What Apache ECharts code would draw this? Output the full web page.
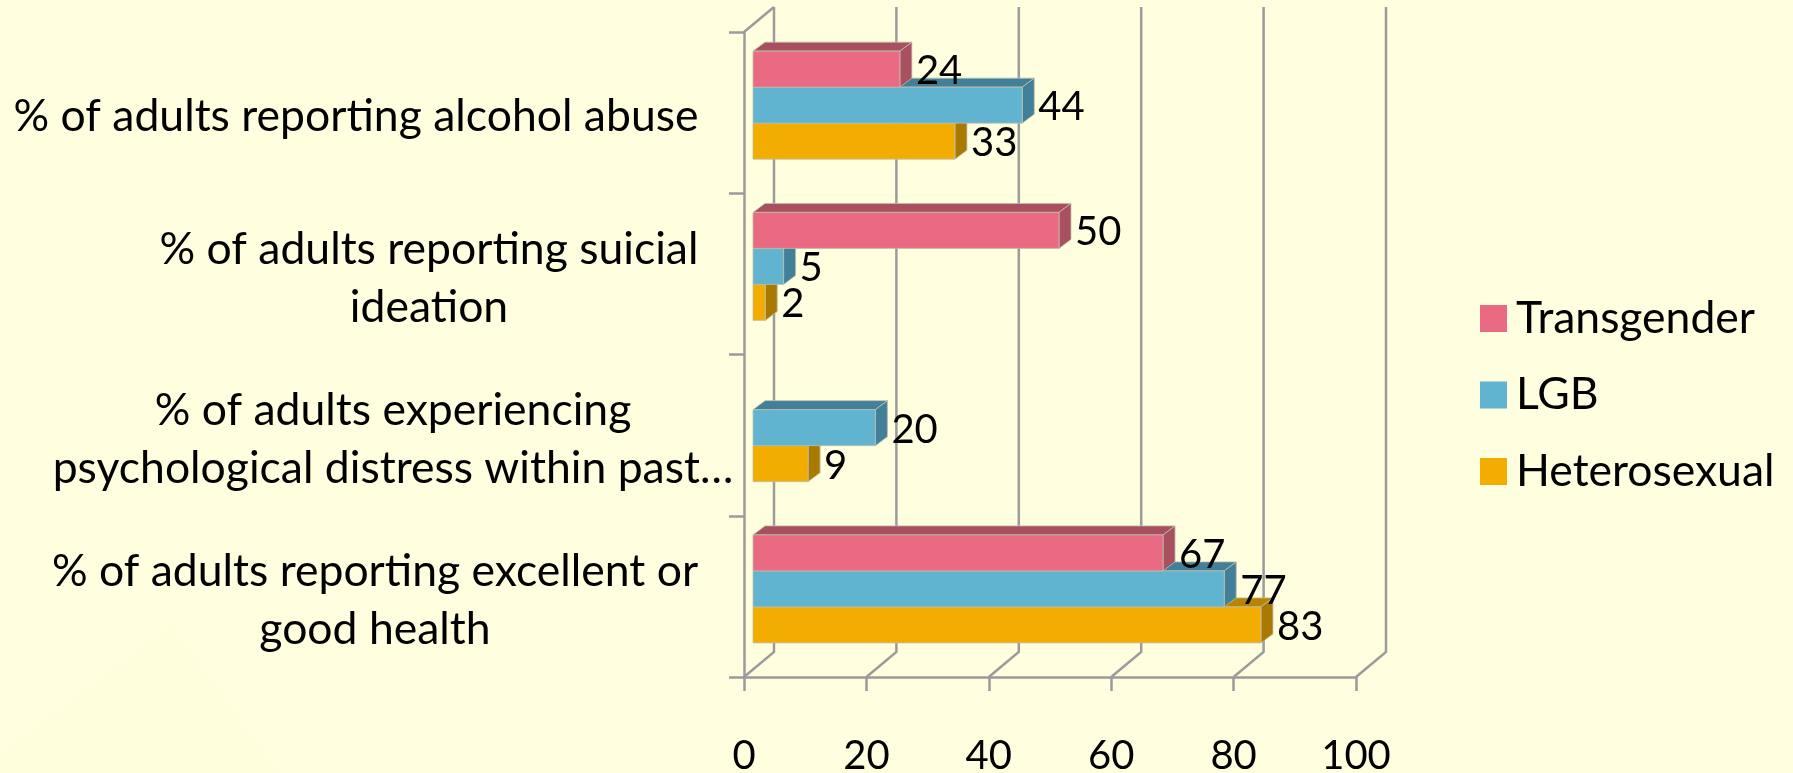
<!DOCTYPE html>
<html>
<head>
<meta charset="utf-8">
<title>Chart</title>
<style>
  html, body { margin: 0; padding: 0; background: #ffffe0; }
  #chart { width: 1793px; height: 773px; }
</style>
<script src="https://cdn.jsdelivr.net/npm/echarts@6/dist/echarts.min.js"></script>
</head>
<body>
<div id="chart"></div>
<script>
// bottom to top, same order as the value axis reads
const categories = [
  '% of adults reporting excellent or\ngood health',
  '% of adults experiencing\npsychological distress within past…',
  '% of adults reporting suicial\nideation',
  '% of adults reporting alcohol abuse'
]
const transgender = [67, null, 50, 24]
const lgb = [77, 20, 5, 44]
const heterosexual = [83, 9, 2, 33]
const xTicks = [0, 20, 40, 60, 80, 100]
const seriesNames = ['Transgender', 'LGB', 'Heterosexual']

const fontName = 'Lato'
const numberSize = 40
const textSize = 44.5
const gridColor = '#9b9b9b'
// box around each axis label, sets where its two lines are centred
const labelBoxes = [710, 674, 602, 748]

const wallDx = 30
const wallDy = 25
const barInsetX = 9
const barInsetY = 7.5
const barDepthX = 12
const barDepthY = 9
const barHeight = 36

const toRows = (values) => values.map((v, i) => [v, i])

function renderWall(params, api) {
  const x = api.coord([api.value(0), 0])[0]
  const top = params.coordSys.y
  const bottom = top + params.coordSys.height
  const lineStyle = { stroke: gridColor, lineWidth: 2.5, fill: null }
  const children = [{
    type: 'polyline',
    shape: { points: [[x, bottom], [x + wallDx, bottom - wallDy], [x + wallDx, top - wallDy]] },
    style: lineStyle
  }]
  if (api.value(0) === 0) {
    children.push({
      type: 'polyline',
      shape: { points: [[x, top], [x + wallDx, top - wallDy]] },
      style: lineStyle
    })
  }
  return { type: 'group', children }
}

function bar3d(slot, front, side, top) {
  return function (params, api) {
    const value = api.value(0)
    if (isNaN(value)) return
    const start = api.coord([0, api.value(1)])
    const end = api.coord([value, api.value(1)])
    const x0 = start[0] + barInsetX
    const x1 = end[0] + barInsetX
    const y0 = start[1] - barInsetY + (slot - 1.5) * barHeight
    const y1 = y0 + barHeight
    const edge = { stroke: 'rgba(190,190,170,0.8)', lineWidth: 1 }
    return {
      type: 'group',
      children: [
        {
          type: 'polygon',
          shape: { points: [[x0, y0], [x1, y0], [x1 + barDepthX, y0 - barDepthY], [x0 + barDepthX, y0 - barDepthY]] },
          style: { fill: top, ...edge }
        },
        {
          type: 'polygon',
          shape: { points: [[x1, y0], [x1 + barDepthX, y0 - barDepthY], [x1 + barDepthX, y1 - barDepthY], [x1, y1]] },
          style: { fill: side, ...edge }
        },
        {
          type: 'rect',
          shape: { x: x0, y: y0, width: x1 - x0, height: y1 - y0 },
          style: { fill: front, ...edge }
        },
        {
          type: 'text',
          style: {
            text: String(value),
            x: x1 + 16,
            y: (y0 + y1) / 2 + 2,
            fill: '#000',
            font: numberSize + 'px ' + fontName,
            align: 'left',
            verticalAlign: 'middle'
          }
        }
      ]
    }
  }
}

const chart = echarts.init(document.getElementById('chart'))

const richBoxes = {}
labelBoxes.forEach((w, i) => {
  richBoxes['c' + i] = {
    width: w,
    align: 'center',
    lineHeight: 58,
    fontSize: textSize,
    fontFamily: fontName,
    color: '#000'
  }
})

chart.setOption({
  animation: false,
  backgroundColor: '#ffffe0',
  graphic: [{
    type: 'polygon',
    silent: true,
    z: -1,
    shape: { points: [[173, 620], [0, 750], [0, 773], [283, 773]] },
    style: { fill: '#fdffdc' }
  }],
  textStyle: { fontFamily: fontName },
  grid: { left: 744, right: 437, top: 32, bottom: 96, outerBoundsMode: 'none' },
  legend: {
    left: 1475,
    top: 291,
    orient: 'vertical',
    itemWidth: 27,
    itemHeight: 27,
    itemGap: 31.5,
    icon: 'rect',
    data: seriesNames,
    textStyle: { fontSize: textSize, lineHeight: 27, fontFamily: fontName, color: '#000', padding: [0, 0, 0, 4] }
  },
  xAxis: {
    type: 'value',
    min: 0,
    max: 100,
    interval: 20,
    splitLine: { show: false },
    axisLine: { show: true, lineStyle: { color: gridColor, width: 2.5 } },
    axisTick: { show: true, length: 14, lineStyle: { color: gridColor, width: 2.5 } },
    axisLabel: { margin: 59, fontSize: numberSize, fontFamily: fontName, color: '#000' }
  },
  yAxis: {
    type: 'category',
    data: categories,
    axisLine: { show: true, lineStyle: { color: gridColor, width: 2.5 } },
    axisTick: { show: true, length: 15, alignWithLabel: false, lineStyle: { color: gridColor, width: 2.5 } },
    axisLabel: {
      margin: 14,
      interval: 0,
      align: 'right',
      padding: [9, 0, 0, 0],
      formatter: (value, index) => value.split('\n').map((line) => '{c' + index + '|' + line + '}').join('\n'),
      rich: richBoxes
    }
  },
  series: [
    {
      type: 'custom',
      name: 'walls',
      silent: true,
      z: 1,
      encode: { x: 0, y: 1 },
      data: xTicks.map((v) => [v, 0]),
      renderItem: renderWall
    },
    {
      type: 'custom',
      name: seriesNames[0],
      z: 4,
      itemStyle: { color: '#e96a82' },
      encode: { x: 0, y: 1 },
      data: toRows(transgender),
      renderItem: bar3d(0, '#e96a82', '#a85060', '#a85060')
    },
    {
      type: 'custom',
      name: seriesNames[1],
      z: 3,
      itemStyle: { color: '#61b4cf' },
      encode: { x: 0, y: 1 },
      data: toRows(lgb),
      renderItem: bar3d(1, '#61b4cf', '#42809a', '#42809a')
    },
    {
      type: 'custom',
      name: seriesNames[2],
      z: 2,
      itemStyle: { color: '#f3ac00' },
      encode: { x: 0, y: 1 },
      data: toRows(heterosexual),
      renderItem: bar3d(2, '#f3ac00', '#aa7a00', '#b98500')
    }
  ]
})
</script>
</body>
</html>
